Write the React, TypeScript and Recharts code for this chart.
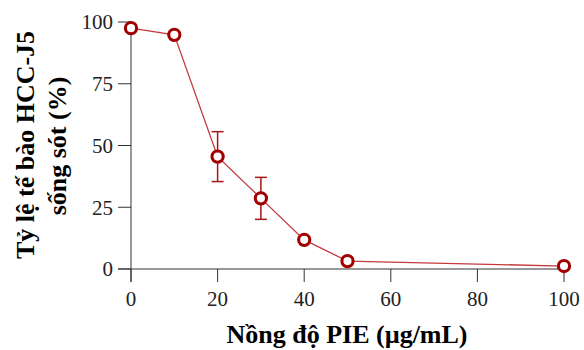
import React from 'react';
import { LineChart, Line, XAxis, YAxis, ErrorBar } from 'recharts';

const concentrations = [0, 10, 20, 30, 40, 50, 100];
const survival = [97.5, 94.8, 45.5, 28.6, 11.8, 3.2, 1.2];
const errors = [null, null, 10.1, 8.5, null, null, null];
const xTicks = [0, 20, 40, 60, 80, 100];
const yTicks = [0, 25, 50, 75, 100];
const xTitle = 'Nồng độ PIE (µg/mL)';
const yTitle = ['Tỷ lệ tế bào HCC-J5', 'sống sót (%)'];

const data = concentrations.map((c, i) => ({ x: c, y: survival[i], err: errors[i] }));

const W = 584;
const H = 350;
const LEFT = 131;
const BOTTOM = 81;
const TICK = 13;
const serif = '"Liberation Serif", "Times New Roman", serif';
const axisColor = '#333333';

const titleStyle = { fontFamily: serif, fontWeight: 'bold' as const, fontSize: 26, fill: '#000' };
const tickStyle = { fill: '#222', fontSize: 21, fontFamily: serif, style: { fontFamily: serif } };

// axes in the original cross a little past each other at the origin
const AxisStubs = () => (
  <g stroke={axisColor} strokeWidth={1}>
    <line x1={LEFT - TICK} y1={H - BOTTOM} x2={LEFT} y2={H - BOTTOM} />
    <line x1={LEFT} y1={H - BOTTOM} x2={LEFT} y2={H - BOTTOM + TICK} />
  </g>
);

const Titles = () => (
  <g>
    <text transform="translate(34, 145) rotate(-90)" textAnchor="middle" {...titleStyle}>
      {yTitle[0]}
    </text>
    <text transform="translate(66, 146) rotate(-90)" textAnchor="middle" {...titleStyle}>
      {yTitle[1]}
    </text>
    <text x={347} y={343} textAnchor="middle" {...titleStyle}>
      {xTitle}
    </text>
  </g>
);

export default function App() {
  return (
    <div style={{ position: 'absolute', left: 0, top: 0, width: W, height: H, background: '#fff', fontFamily: serif }}>
      <LineChart width={W} height={H} data={data} margin={{ top: 22, right: 20, bottom: 0, left: 0 }}>
        <XAxis
          dataKey="x"
          type="number"
          domain={[0, 100]}
          ticks={xTicks}
          tickSize={TICK}
          tickMargin={9}
          height={BOTTOM}
          stroke={axisColor}
          tick={tickStyle}
        />
        <YAxis
          type="number"
          domain={[0, 100]}
          ticks={yTicks}
          tickSize={TICK}
          tickMargin={5}
          width={LEFT}
          stroke={axisColor}
          tick={tickStyle}
        />
        <Line
          dataKey="y"
          stroke="#c43b3e"
          strokeWidth={1.3}
          isAnimationActive={false}
          dot={{ r: 5.6, stroke: '#a00000', strokeWidth: 3.1, fill: '#fff' }}
        >
          <ErrorBar dataKey="err" width={6} stroke="#a8161a" strokeWidth={1.5} direction="y" />
        </Line>
        <AxisStubs />
        <Titles />
      </LineChart>
    </div>
  );
}
